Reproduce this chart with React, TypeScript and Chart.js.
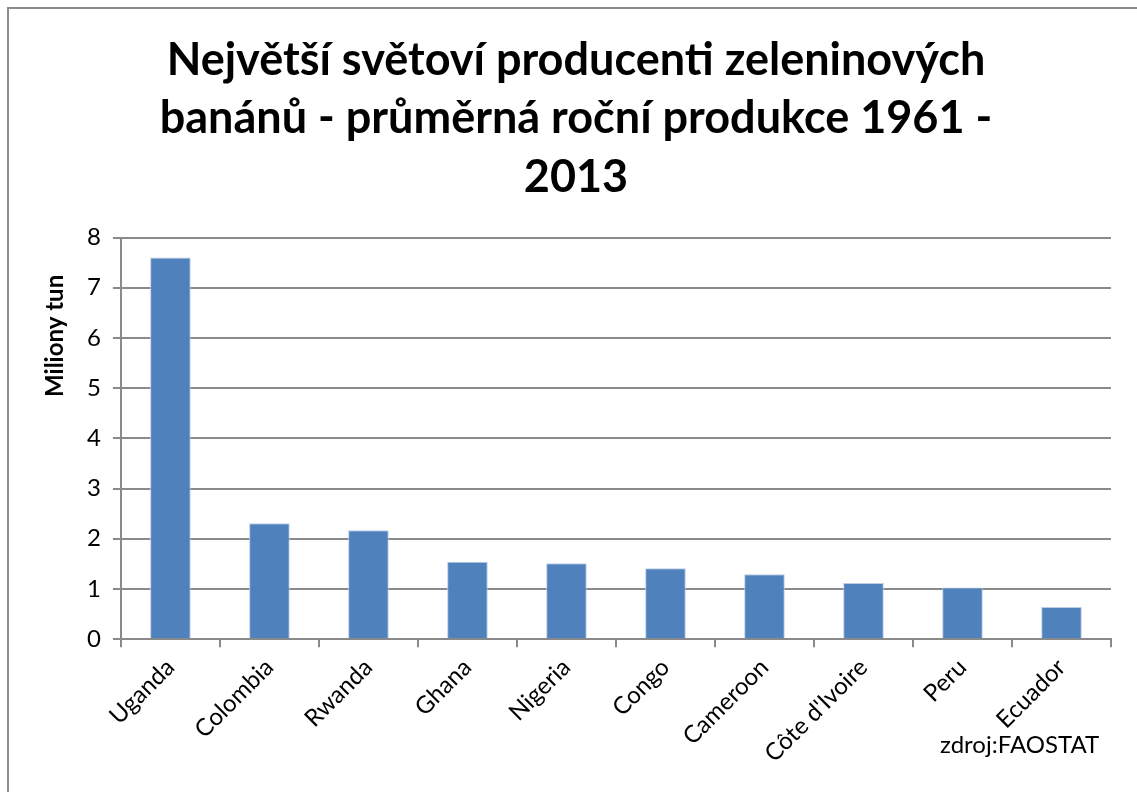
import React, { useEffect, useRef } from "react";
import { Chart, registerables } from "chart.js";

Chart.register(...registerables);

const categories = ["Uganda", "Colombia", "Rwanda", "Ghana", "Nigeria", "Congo", "Cameroon", "Côte d'Ivoire", "Peru", "Ecuador"];
const production = [7.6, 2.31, 2.17, 1.54, 1.51, 1.41, 1.29, 1.12, 1.03, 0.64];
const titleLines = ["Největší světoví producenti zeleninových", "banánů - průměrná roční produkce 1961 -", "2013"];
const yAxisTitle = "Miliony tun";
const sourceNote = "zdroj:FAOSTAT";

const FONT = "Lato, 'Open Sans', sans-serif";

// Draws the y-axis title rotated, placed in the upper part of the axis as in the original.
const yTitlePlugin = {
  id: "yTitleOffset",
  afterDraw(chart: any) {
    const { ctx, chartArea } = chart;
    const x = 55;
    const y = chartArea.top + (chartArea.bottom - chartArea.top) * 0.245;
    ctx.save();
    ctx.translate(x, y);
    ctx.rotate(-Math.PI / 2);
    ctx.font = `bold 24px ${FONT}`;
    ctx.fillStyle = "#000";
    ctx.textAlign = "center";
    ctx.textBaseline = "middle";
    ctx.fillText(yAxisTitle, 0, 0);
    ctx.restore();
  },
};

export default function App() {
  const canvasRef = useRef<HTMLCanvasElement | null>(null);

  useEffect(() => {
    document.body.style.margin = "0";
    document.body.style.overflow = "hidden";
    const ctx = canvasRef.current!;
    const chart = new Chart(ctx, {
      type: "bar",
      data: {
        labels: categories,
        datasets: [
          {
            data: production,
            backgroundColor: "#4f81bd",
            borderColor: "#b9cde5",
            borderWidth: 1,
            categoryPercentage: 1,
            barPercentage: 0.41,
          },
        ],
      },
      plugins: [yTitlePlugin],
      options: {
        animation: false,
        responsive: false,
        maintainAspectRatio: false,
        layout: { padding: { left: 41, right: 26, top: 31, bottom: 18 } },
        plugins: {
          legend: { display: false },
          tooltip: { enabled: false },
          title: {
            display: true,
            text: titleLines,
            color: "#000",
            font: { family: FONT, size: 45, weight: "bold", lineHeight: 1.3 },
            padding: { top: 0, bottom: 31 },
          },
        },
        scales: {
          x: {
            offset: true,
            grid: {
              offset: true,
              drawOnChartArea: false,
              drawTicks: true,
              tickLength: 8,
              color: "#8a8a8a",
              lineWidth: 2,
            },
            border: { color: "#8a8a8a", width: 2 },
            ticks: {
              color: "#000",
              font: { family: FONT, size: 24 },
              maxRotation: 45,
              minRotation: 45,
              padding: 6,
              autoSkip: false,
            },
          },
          y: {
            min: 0,
            max: 8,
            afterFit: (scale: any) => {
              scale.width += 34;
            },
            grid: { color: "#8a8a8a", lineWidth: 2, tickLength: 8, drawTicks: true },
            border: { color: "#8a8a8a", width: 2 },
            ticks: {
              stepSize: 1,
              color: "#000",
              font: { family: FONT, size: 24 },
              padding: 12,
            },
            title: { display: false },
          },
        },
      },
    });
    return () => chart.destroy();
  }, []);

  return (
    <div style={{ position: "fixed", left: 0, top: 0, width: 1137, height: 792, overflow: "hidden", background: "#fff" }}>
      <div
        style={{
          position: "absolute",
          left: 7,
          top: 7,
          width: 1200,
          height: 900,
          border: "2px solid #8c8c8c",
          boxSizing: "border-box",
        }}
      />
      <canvas ref={canvasRef} width={1137} height={792} style={{ position: "absolute", left: 0, top: 0 }} />
      <div
        style={{
          position: "absolute",
          left: 940,
          top: 729,
          fontFamily: FONT,
          fontSize: 24,
          color: "#000",
          lineHeight: "30px",
        }}
      >
        {sourceNote}
      </div>
    </div>
  );
}
